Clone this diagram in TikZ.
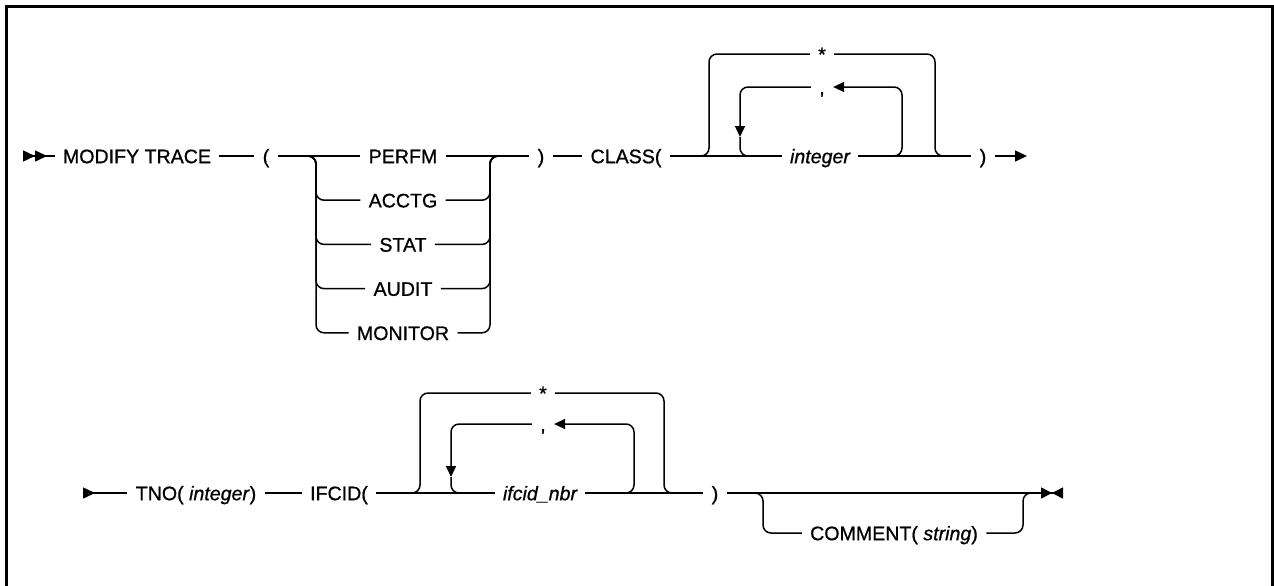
\documentclass[tikz,border=0pt]{standalone}
\usepackage{fontspec}
\setmainfont{Liberation Sans}[FakeBold=0.8]
\usetikzlibrary{arrows.meta, positioning}

\begin{document}
\begin{tikzpicture}[
    x=0.5pt, y=-0.5pt,
    every node/.style={font=\fontsize{9.8}{12}\selectfont},
    kw/.style={inner xsep=4pt, inner ysep=2pt, text height=0.72em, text depth=0pt},
    rail/.style={line width=0.75pt, rounded corners=4pt},
    frame/.style={line width=1.5pt}
]
\useasboundingbox (0,0) rectangle (1274,585);
\draw[frame] (6,600) -- (6,6) -- (1272.5,6) -- (1272.5,600);

% first line
\coordinate (st1) at (23,156);
\node[kw] (mt) at (137,156) {MODIFY TRACE};
\node[kw] (lp1) at (266,156) {(};
\node[kw] (perfm) at (403,156) {PERFM};
\node[kw, below=10.5pt of perfm] (acctg) {ACCTG};
\node[kw, below=10.5pt of acctg] (stat) {STAT};
\node[kw, below=10.5pt of stat] (audit) {AUDIT};
\node[kw, below=10.5pt of audit] (monitor) {MONITOR};
\node[kw] (rp1) at (541,156) {)};
\node[kw] (class) at (626,156) {CLASS(};
\node[kw] (int1) at (820,156) {\itshape integer};
\node[kw] (star1) at (822,54) {*};
\node[kw] (comma1) at (822,87) {,};
\node[kw] (rp2) at (983,156) {)};
\coordinate (e1) at (1027,156);

\coordinate (s1) at (306,156);
\coordinate (s1v) at (316,156);
\coordinate (m1v) at (490,156);
\coordinate (m1) at (500,156);
\coordinate (l1) at (699,156);
\coordinate (l1v) at (709,156);
\coordinate (r1v) at (935,156);
\coordinate (r1) at (945,156);
\coordinate (i1v) at (740,137);
\coordinate (i1) at (754,156);
\coordinate (k1) at (892,156);
\coordinate (k1v) at (902,156);

\draw[rail, {Triangle[reversed,length=6pt,width=5.5pt]Triangle[reversed,length=6pt,width=5.5pt]}-] (st1) -- (mt);
\draw[rail] (mt) -- (lp1);
\draw[rail] (lp1) -- (perfm);
\draw[rail] (perfm) -- (rp1);
\draw[rail] (s1) -| (s1v |- acctg) -- (acctg);
\draw[rail] (s1) -| (s1v |- stat) -- (stat);
\draw[rail] (s1) -| (s1v |- audit) -- (audit);
\draw[rail] (s1) -| (s1v |- monitor) -- (monitor);
\draw[rail] (acctg) -- (m1v |- acctg) |- (m1);
\draw[rail] (stat) -- (m1v |- stat) |- (m1);
\draw[rail] (audit) -- (m1v |- audit) |- (m1);
\draw[rail] (monitor) -- (m1v |- monitor) |- (m1);
\draw[rail] (rp1) -- (class);
\draw[rail] (class) -- (int1);
\draw[rail] (int1) -- (rp2);
\draw[rail, -{Triangle[length=6pt,width=5.5pt]}] (rp2) -- (e1);
\draw[rail] (l1) -| (l1v |- star1) -- (star1);
\draw[rail] (star1) -- (r1v |- star1) |- (r1);
\draw[rail, -{Triangle[length=5.5pt,width=5pt]}] (k1) -| (k1v |- comma1) -- (comma1);
\draw[rail, -{Triangle[length=5.5pt,width=5pt]}] (comma1) -| (i1v);
\draw[rail] (i1v) |- (i1);

% second line
\coordinate (st2) at (83,493);
\node[kw] (tno) at (196,493) {TNO( \textit{integer})};
\node[kw] (ifcid) at (339,493) {IFCID(};
\node[kw] (nbr) at (540,493) {\itshape ifcid\_nbr};
\node[kw] (star2) at (543,393) {*};
\node[kw] (comma2) at (543,424) {,};
\node[kw] (rp3) at (715,493) {)};
\node[kw] (comment) at (894,533) {COMMENT( \textit{string})};
\coordinate (e2) at (1063,493);

\coordinate (l2) at (410,493);
\coordinate (l2v) at (420,493);
\coordinate (r2v) at (664,493);
\coordinate (r2) at (674,493);
\coordinate (i2v) at (451,477);
\coordinate (i2) at (465,493);
\coordinate (k2) at (624,493);
\coordinate (k2v) at (634,493);
\coordinate (o1) at (753,493);
\coordinate (o1v) at (763,493);
\coordinate (o2v) at (1023,493);
\coordinate (o2) at (1033,493);

\draw[rail, {Triangle[reversed,length=6pt,width=5.5pt]}-] (st2) -- (tno);
\draw[rail] (tno) -- (ifcid);
\draw[rail] (ifcid) -- (nbr);
\draw[rail] (nbr) -- (rp3);
\draw[rail, -{Triangle[length=5.5pt,width=5.5pt]Triangle[reversed,length=5.5pt,width=5.5pt]}] (rp3) -- (e2);
\draw[rail] (l2) -| (l2v |- star2) -- (star2);
\draw[rail] (star2) -- (r2v |- star2) |- (r2);
\draw[rail, -{Triangle[length=5.5pt,width=5pt]}] (k2) -| (k2v |- comma2) -- (comma2);
\draw[rail, -{Triangle[length=5.5pt,width=5pt]}] (comma2) -| (i2v);
\draw[rail] (i2v) |- (i2);
\draw[rail] (o1) -| (o1v |- comment) -- (comment);
\draw[rail] (comment) -- (o2v |- comment) |- (o2);
\end{tikzpicture}
\end{document}
